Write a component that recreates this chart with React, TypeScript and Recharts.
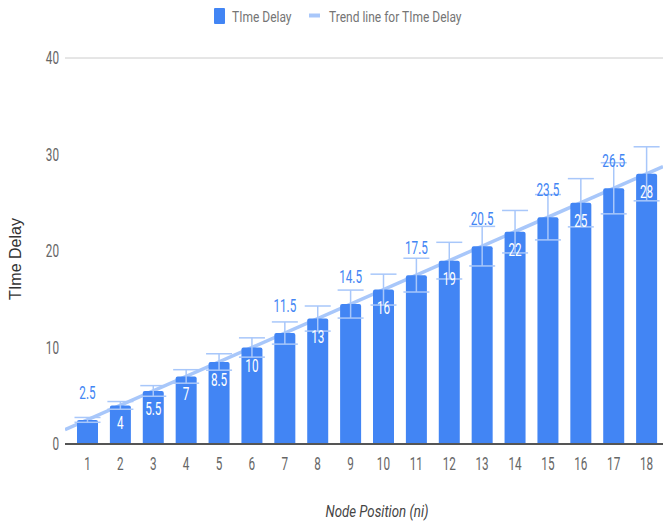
import React from "react";
import {
  ComposedChart,
  Bar,
  Line,
  XAxis,
  YAxis,
  CartesianGrid,
  ErrorBar,
  LabelList,
} from "recharts";

// ---------- data ----------
const nodePositions = [1, 2, 3, 4, 5, 6, 7, 8, 9, 10, 11, 12, 13, 14, 15, 16, 17, 18];
const timeDelay = [2.5, 4, 5.5, 7, 8.5, 10, 11.5, 13, 14.5, 16, 17.5, 19, 20.5, 22, 23.5, 25, 26.5, 28];
const errorPercent = 10; // constant percentage error bars
const yTicks = [0, 10, 20, 30, 40];
const labelsAboveBar = [1, 7, 9, 11, 13, 15, 17]; // node positions whose label sits above the bar
const legendLabels = ["TIme Delay", "Trend line for TIme Delay"];
const xAxisTitle = "Node Position (ni)";
const yAxisTitle = "TIme Delay";
const trendDomain = [0.32, 18.5];

// least-squares linear trend line
const n = nodePositions.length;
const mx = nodePositions.reduce((a, b) => a + b, 0) / n;
const my = timeDelay.reduce((a, b) => a + b, 0) / n;
let sxy = 0;
let sxx = 0;
nodePositions.forEach((x, i) => {
  sxy += (x - mx) * (timeDelay[i] - my);
  sxx += (x - mx) * (x - mx);
});
const slope = sxy / sxx;
const intercept = my - slope * mx;

const data = nodePositions.map((x, i) => ({
  x,
  delay: timeDelay[i],
  err: (timeDelay[i] * errorPercent) / 100,
}));
const trendData = trendDomain.map((x) => ({ x, trend: intercept + slope * x }));

// ---------- styles ----------
const W = 663;
const H = 525;
const MARGIN = { top: 58, right: 0, bottom: 0, left: 0 };
const BLUE = "#4285f4";
const LIGHT = "#a8c7fa";
const TICK = "#666666";
const SQ = 0.67;

function CText({ x, y, anchor = "middle", size = 17.5, fill = TICK, sx = SQ, italic = false, family = "Roboto", children }: any) {
  return (
    <text
      transform={`translate(${x},${y}) scale(${sx},1)`}
      textAnchor={anchor}
      fontSize={size}
      fontFamily={family}
      fontStyle={italic ? "italic" : "normal"}
      fill={fill}
    >
      {children}
    </text>
  );
}

const XTick = (props: any) => {
  const { x, y, payload } = props;
  return <CText x={x} y={y + 26}>{payload.value}</CText>;
};

const YTick = (props: any) => {
  const { x, y, payload } = props;
  return (
    <CText x={x - 6} y={y + 6.3} anchor="end">
      {payload.value}
    </CText>
  );
};

const BarLabel = (props: any) => {
  const { x, y, width, value, index } = props;
  const i = typeof index === "number" ? index : timeDelay.indexOf(value);
  const above = labelsAboveBar.includes(nodePositions[i]);
  const cx = x + width / 2;
  if (above) {
    return (
      <CText x={cx} y={y - 21} fill={BLUE}>
        {value}
      </CText>
    );
  }
  return (
    <CText x={cx} y={y + 24} fill="#ffffff">
      {value}
    </CText>
  );
};

const XTitle = () => (
  <CText x={377} y={517} size={17} sx={0.78} italic fill="#444444">
    {xAxisTitle}
  </CText>
);

const YTitle = () => (
  <text
    transform="translate(21,259) rotate(-90)"
    textAnchor="middle"
    fontSize={16}
    fontFamily="Liberation Sans, Arial, sans-serif"
    fill="#333333"
  >
    {yAxisTitle}
  </text>
);

export default function App() {
  return (
    <div style={{ position: "absolute", left: 0, top: 0, width: W, height: H, background: "#fff" }}>
      {/* back layer: grid + trend line (drawn behind the bars) */}
      <div style={{ position: "absolute", left: 0, top: 0 }}>
        <ComposedChart width={W} height={H} data={trendData} margin={MARGIN}>
          <CartesianGrid horizontal vertical={false} stroke="#cccccc" strokeWidth={1} />
          <XAxis
            dataKey="x"
            type="number"
            domain={trendDomain}
            allowDataOverflow
            height={81}
            tick={false}
            tickLine={false}
            axisLine={false}
          />
          <YAxis
            type="number"
            domain={[0, 40]}
            ticks={yTicks}
            width={65}
            tick={false}
            tickLine={false}
            axisLine={false}
          />
          <Line
            dataKey="trend"
            stroke={LIGHT}
            strokeWidth={3.5}
            dot={false}
            activeDot={false}
            isAnimationActive={false}
          />
        </ComposedChart>
      </div>
      {/* front layer: axes, bars, error bars, labels */}
      <div style={{ position: "absolute", left: 0, top: 0 }}>
        <ComposedChart width={W} height={H} data={data} margin={MARGIN}>
          <XAxis
            dataKey="x"
            type="category"
            padding={{ left: 6, right: 0 }}
            interval={0}
            height={81}
            tickSize={0}
            tickMargin={0}
            tickLine={false}
            axisLine={{ stroke: "#555555", strokeWidth: 2 }}
            tick={<XTick />}
            label={<XTitle />}
          />
          <YAxis
            type="number"
            domain={[0, 40]}
            ticks={yTicks}
            width={65}
            tickSize={0}
            tickMargin={0}
            tickLine={false}
            axisLine={false}
            tick={<YTick />}
            label={<YTitle />}
          />
          <Bar dataKey="delay" fill={BLUE} barSize={21} radius={[2, 2, 0, 0]} isAnimationActive={false}>
            <ErrorBar dataKey="err" width={13} stroke={LIGHT} strokeWidth={1.5} direction="y" />
            <LabelList dataKey="delay" content={<BarLabel />} />
          </Bar>
        </ComposedChart>
      </div>
      <svg
        width={W}
        height={32}
        style={{ position: "absolute", left: 0, top: 0, pointerEvents: "none" }}
      >
        <rect x={214} y={8} width={11} height={16} rx={1} fill={BLUE} />
        <CText x={232} y={21.7} anchor="start" size={15} sx={0.8} fill="#757575">
          {legendLabels[0]}
        </CText>
        <line x1={309} y1={15.5} x2={320} y2={15.5} stroke={LIGHT} strokeWidth={4} />
        <CText x={329} y={21.7} anchor="start" size={15} sx={0.8} fill="#757575">
          {legendLabels[1]}
        </CText>
      </svg>
    </div>
  );
}
